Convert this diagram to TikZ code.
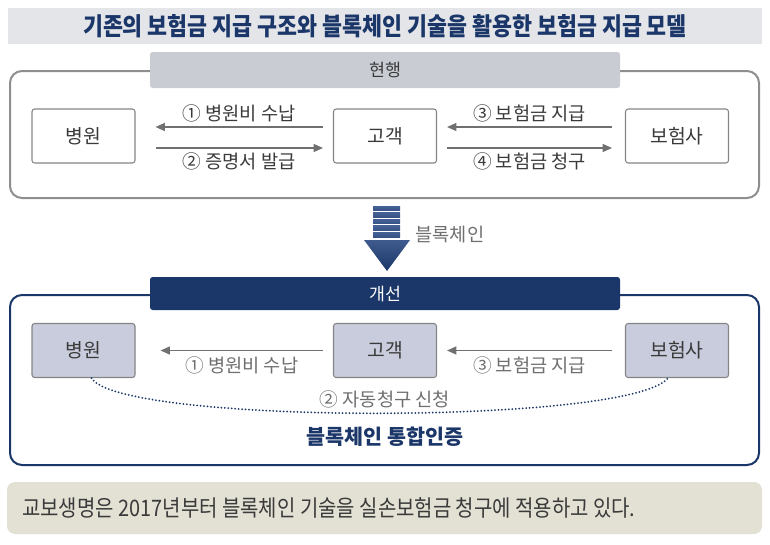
\documentclass[tikz,border=0pt]{standalone}
\usepackage{fontspec}
\setmainfont{Noto Sans CJK KR}
\newfontfamily\condfont{Noto Sans CJK KR}[FakeStretch=0.88]
\usetikzlibrary{arrows.meta,positioning,calc}
\definecolor{navy}{HTML}{1B3668}
\definecolor{navylight}{HTML}{4F6A9E}
\definecolor{titlegray}{HTML}{E3E5E9}
\definecolor{tabgray}{HTML}{C9CDD3}
\definecolor{framegray}{HTML}{8E8E8E}
\definecolor{boxgray}{HTML}{858585}
\definecolor{lavender}{HTML}{C9CCDC}
\definecolor{ink}{HTML}{3A3A3A}
\definecolor{softink}{HTML}{6F6F6F}
\definecolor{arrgray}{HTML}{707070}
\definecolor{beige}{HTML}{E3E1D4}

\begin{document}
\begin{tikzpicture}[x=0.75pt,y=-0.75pt,
  box/.style={draw=boxgray,rounded corners=2pt,fill=white,line width=0.8pt,minimum width=77.25pt,minimum height=40.5pt,font=\fontsize{14.5}{17}\selectfont,text=ink,inner sep=0pt},
  newbox/.style={box,fill=lavender},
  frame/.style={rounded corners=9pt,line width=1.5pt},
  tab/.style={rounded corners=2pt,minimum width=352.5pt,inner sep=0pt,font=\fontsize{13}{15}\selectfont},
  arr/.style={-{Triangle[length=7pt,width=6pt]},line width=1pt,color=arrgray},
  lab/.style={font=\fontsize{14}{16}\selectfont,text=ink,inner sep=1pt},
  dots/.style={line width=1.5pt,dash pattern=on 0pt off 2.6pt,line cap=round,color=navy}]
\useasboundingbox (0,0) rectangle (770,544);
% title
\node[fill=titlegray,minimum width=565.5pt,minimum height=27pt,inner sep=0pt,text=navy,font=\condfont\bfseries\fontsize{18.5}{20}\selectfont] (title) at (385,26) {기존의 보험금 지급 구조와 블록체인 기술을 활용한 보험금 지급 모델};
% current structure
\draw[frame,draw=framegray] (10,71) rectangle (759,198);
\node[tab,fill=tabgray,minimum height=27pt,text=ink] (now) at (385,70) {현행};
\node[box] (hosp1) at (83.5,136) {병원};
\node[box] (cust1) at (385,136) {고객};
\node[box] (ins1) at (677,136) {보험사};
\draw[arr] ($(cust1.west)+(-10,-9)$) -- node[lab,above=2pt] {① 병원비 수납} ($(hosp1.east)+(20,-9)$);
\draw[arr] ($(hosp1.east)+(20,12)$) -- node[lab,below=2pt] {② 증명서 발급} ($(cust1.west)+(-10,12)$);
\draw[arr] ($(ins1.west)+(-13,-9)$) -- node[lab,above=2pt] {③ 보험금 지급} ($(cust1.east)+(10,-9)$);
\draw[arr] ($(cust1.east)+(10,12)$) -- node[lab,below=2pt] {④ 보험금 청구} ($(ins1.west)+(-13,12)$);
% blockchain arrow
\foreach \i in {0,...,4}
  \shade[top color=navylight!80!navy,bottom color=navylight!55!navy] (373,206+\i*6.6) rectangle (400,210.6+\i*6.6);
\shade[top color=navylight!70!navy,bottom color=navy] (364,240) -- (410,240) -- (387,271) -- cycle;
\node[lab,text=softink,anchor=west] (bc) at (414,235) {블록체인};
% improved structure
\draw[frame,draw=navy] (10,295) rectangle (759,465);
\node[tab,fill=navy,minimum height=24.75pt,text=white] (new) at (385,293.5) {개선};
\node[newbox] (hosp2) at (83.5,350.5) {병원};
\node[newbox] (cust2) at (385,350.5) {고객};
\node[newbox] (ins2) at (677,350.5) {보험사};
\draw[arr] ($(cust2.west)+(-10,0)$) -- node[lab,text=softink,below=3pt] {① 병원비 수납} ($(hosp2.east)+(25,0)$);
\draw[arr] ($(ins2.west)+(-13,0)$) -- node[lab,text=softink,below=3pt] {③ 보험금 지급} ($(cust2.east)+(10,0)$);
\draw[dots] ($(hosp2.south)+(8,0)$) .. controls ($(hosp2.south)+(36,47)$) and ($(ins2.south)+(-46,47)$) .. ($(ins2.south)+(-9,0)$);
\node[lab,text=softink] (auto) at (385,399) {② 자동청구 신청};
\node[lab,text=navy,font=\bfseries\fontsize{15.5}{18}\selectfont] (auth) at (385,437) {블록체인 통합인증};
% note
\node[fill=beige,rounded corners=6pt,minimum width=566.25pt,minimum height=39pt,inner sep=0pt] (notebar) at (384.5,508) {};
\node[anchor=west,inner sep=0pt,text=ink,font=\condfont\fontsize{17}{19}\selectfont] (note) at (22,508) {교보생명은 2017년부터 블록체인 기술을 실손보험금 청구에 적용하고 있다.};
\end{tikzpicture}
\end{document}
